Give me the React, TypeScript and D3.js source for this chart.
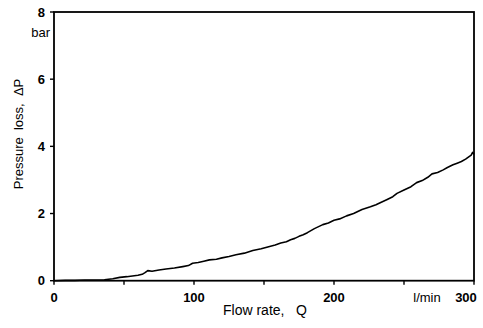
import React from "react";
import * as d3 from "d3";

const flowRate = [0, 8, 15, 22, 30, 36, 42, 47, 52, 56, 60, 63, 65, 67, 70, 75, 80, 86, 92, 96, 99, 103, 107, 111, 116, 120, 125, 130, 136, 142, 148, 154, 158, 162, 166, 169, 172, 175, 178, 181, 186, 192, 196, 200, 204, 209, 214, 220, 226, 230, 233, 238, 242, 245, 250, 255, 259, 263, 267, 270, 274, 278, 281, 285, 288, 291, 294, 296, 298, 299, 300];
const pressureLoss = [0.0, 0.01, 0.01, 0.02, 0.02, 0.03, 0.06, 0.1, 0.12, 0.14, 0.16, 0.19, 0.24, 0.3, 0.28, 0.32, 0.35, 0.38, 0.42, 0.45, 0.52, 0.54, 0.58, 0.62, 0.64, 0.68, 0.72, 0.77, 0.82, 0.9, 0.95, 1.02, 1.06, 1.12, 1.16, 1.22, 1.26, 1.32, 1.37, 1.43, 1.55, 1.67, 1.72, 1.8, 1.84, 1.93, 2.0, 2.12, 2.2, 2.26, 2.32, 2.42, 2.5, 2.6, 2.7, 2.8, 2.92, 2.98, 3.08, 3.18, 3.22, 3.3, 3.37, 3.45, 3.5, 3.55, 3.62, 3.68, 3.74, 3.82, 3.76];

const xTicks = [0, 100, 200, 300];
const xMinorTicks = [50, 150, 250];
const yTicks = [0, 2, 4, 6, 8];

const W = 483;
const H = 328;
const left = 54;
const right = 474;
const top = 12;
const bottom = 280.7;

export default function App() {
  const x = d3.scaleLinear().domain([0, 300]).range([left, right]);
  const y = d3.scaleLinear().domain([0, 8]).range([bottom, top]);
  const pts: [number, number][] = flowRate.map((v, i) => [v, pressureLoss[i]]);
  const line = d3
    .line<[number, number]>()
    .x((d) => x(d[0]))
    .y((d) => y(d[1]));

  const font = "'Liberation Sans', Arial, Helvetica, sans-serif";

  return (
    <svg
      width={W}
      height={H}
      style={{ position: "absolute", left: 0, top: 0, background: "#fff" }}
      fontFamily={font}
    >
      <rect x={0} y={0} width={W} height={H} fill="#fff" />
      <path d={line(pts) || ""} fill="none" stroke="#000" strokeWidth={1.6} strokeLinejoin="round" />
      <rect
        x={left}
        y={top}
        width={right - left}
        height={bottom - top}
        fill="none"
        stroke="#000"
        strokeWidth={1.8}
      />
      {xTicks.concat(xMinorTicks).map((t) => (
        <line key={"xt" + t} x1={x(t)} x2={x(t)} y1={bottom} y2={bottom + 4} stroke="#000" strokeWidth={1.4} />
      ))}
      {yTicks.map((t) => (
        <line key={"yt" + t} x1={left - 4} x2={left} y1={y(t)} y2={y(t)} stroke="#000" strokeWidth={1.4} />
      ))}
      {xTicks.map((t) => (
        <text
          key={"xl" + t}
          x={t === 300 ? x(t) - 8 : x(t)}
          y={302}
          textAnchor="middle"
          fontSize={13}
          fontWeight="bold"
        >
          {t}
        </text>
      ))}
      {yTicks.map((t) => (
        <text
          key={"yl" + t}
          x={45}
          y={y(t) + 4.5}
          textAnchor="end"
          fontSize={13}
          fontWeight="bold"
        >
          {t}
        </text>
      ))}
      <text x={427} y={302} textAnchor="middle" fontSize={13}>
        l/min
      </text>
      <text x={50} y={37} textAnchor="end" fontSize={13}>
        bar
      </text>
      <text x={265} y={315} textAnchor="middle" fontSize={14} style={{ whiteSpace: "pre" }}>
        {"Flow rate,   Q"}
      </text>
      <text
        transform={`translate(23,134) rotate(-90)`}
        textAnchor="middle"
        fontSize={13}
        style={{ whiteSpace: "pre" }}
      >
        {"Pressure  loss,  ΔP"}
      </text>
    </svg>
  );
}
